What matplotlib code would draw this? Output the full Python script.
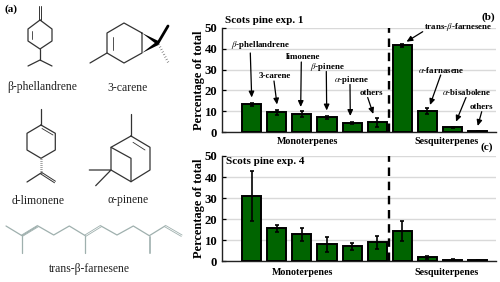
import numpy as np
import matplotlib
matplotlib.use("Agg")
import matplotlib.pyplot as plt

plt.rcParams['font.family'] = ['Liberation Serif', 'DejaVu Serif']
plt.rcParams['mathtext.fontset'] = 'stix'

vals_b = [13.5, 9.5, 8.7, 7.2, 4.5, 4.7, 41.5, 10.2, 2.3, 0.7]
errs_b = [0.7, 1.2, 1.3, 0.7, 0.3, 2.3, 0.8, 1.3, 0.2, 0.1]
vals_c = [31.0, 15.7, 12.8, 8.0, 7.2, 9.0, 14.5, 2.0, 0.8, 0.7]
errs_c = [12.0, 1.7, 3.2, 3.5, 1.6, 3.0, 4.8, 0.7, 0.1, 0.1]
yticks = [0, 10, 20, 30, 40, 50]

W, H = 500, 282
fig = plt.figure(figsize=(W/100, H/100), dpi=100)

def axes_px(l, r, top, bot):
    return fig.add_axes([l/W, 1-bot/H, (r-l)/W, (bot-top)/H])

def panel(ax, vals, errs):
    x = np.arange(len(vals))
    ax.bar(x, vals, width=0.76, color='#006400', edgecolor='black', linewidth=1.4, zorder=3)
    ax.errorbar(x, vals, yerr=errs, fmt='none', ecolor='black', elinewidth=1.2,
                capsize=1.3, capthick=1.2, zorder=4)
    ax.set_xlim(-1.2, 9.73)
    ax.set_ylim(0, 50)
    ax.set_yticks(yticks)
    ax.set_xticks([])
    ax.yaxis.grid(True, color='#d9d9d9', lw=1.0, zorder=0)
    ax.set_axisbelow(True)
    ax.spines['top'].set_visible(False)
    ax.spines['right'].set_visible(False)
    for s in ('left', 'bottom'):
        ax.spines[s].set_linewidth(1.0)
        ax.spines[s].set_color('#222222')
    ax.tick_params(axis='y', direction='in', length=3, width=0.9, pad=3, labelsize=9.2)
    for t in ax.get_yticklabels():
        t.set_fontweight('bold')
    ax.axvline(5.48, color='black', lw=1.7, ls=(0, (3.6, 2.4)), zorder=2)
    ax.set_ylabel('Percentage of total', fontsize=8.9, fontweight='bold', labelpad=0)

ax_b = axes_px(221.5, 496, 27.7, 132.3)
ax_c = axes_px(221.5, 496, 156, 261.3)
panel(ax_b, vals_b, errs_b)
panel(ax_c, vals_c, errs_c)

ov = fig.add_axes([0, 0, 1, 1], zorder=10)
ov.set_xlim(0, W); ov.set_ylim(H, 0); ov.axis('off'); ov.patch.set_alpha(0)

def bt(x, y, s, size=6.4, ha='center'):
    ov.text(x, y, s, fontsize=size, fontweight='bold', ha=ha, va='center')

# panel labels and titles
bt(11, 9, '(a)', 8.0); bt(488, 17, '(b)', 8.0); bt(487, 147, '(c)', 8.0)
bt(225, 20.5, 'Scots pine exp. 1', 8.0, 'left')
bt(226, 162, 'Scots pine exp. 4', 8.0, 'left')
for y, xm, xs in ((142, 307.7, 447), (272.7, 303, 446.7)):
    bt(xm, y, 'Monoterpenes', 7.2)
    bt(xs, y - (1 if y < 200 else 0), 'Sesquiterpenes', 7.2)

# annotated compounds
names = [r'$\beta$-phellandrene', '3-carene', 'limonene', r'$\beta$-pinene', r'$\alpha$-pinene',
         'others', r'trans-$\beta$-farnesene', r'$\alpha$-farnasene', r'$\alpha$-bisabolene', 'others']
name_pos = [(261, 45), (275, 76), (302.7, 57.3), (327, 66.7), (351, 80),
            (371.3, 92.7), (458.3, 27.3), (441, 70), (466.7, 91.7), (481.7, 106.7)]
arrows = [((250.3, 53), (251.7, 97.5)), ((274, 81), (277, 104.5)), ((301.3, 62), (300.7, 107)),
          ((326.3, 71.5), (326.7, 110.5)), ((350, 84.5), (350.3, 116)), ((367.7, 97.5), (373.3, 114)),
          ((422.7, 31.7), (406.5, 41.7)), ((440.7, 75), (430, 105)), ((466, 97.5), (456, 121.7)),
          ((481.7, 111.7), (477.7, 126))]
for n, p, (a, b) in zip(names, name_pos, arrows):
    bt(p[0], p[1], n)
    ov.annotate('', xy=b, xytext=a,
                arrowprops=dict(arrowstyle='-|>,head_width=0.16,head_length=0.35', color='black',
                                lw=0.9, shrinkA=0, shrinkB=0))

# molecules
def ln(pts, c='#333333', lw=0.9):
    p = np.array(pts, float)
    ov.plot(p[:, 0], p[:, 1], color=c, lw=lw, solid_capstyle='round', solid_joinstyle='round')

def dbl(a, b, off=1.1, c='#333333', lw=0.7):
    a, b = np.array(a, float), np.array(b, float)
    d = b - a
    n = np.array([-d[1], d[0]]) / np.hypot(*d) * off
    ln([a + n, b + n], c, lw); ln([a - n, b - n], c, lw)

def wedge(tip, end, w=2.5):
    tip, end = np.array(tip, float), np.array(end, float)
    d = end - tip
    n = np.array([-d[1], d[0]]) / np.hypot(*d) * w
    ov.fill(*np.array([tip, end + n, end - n]).T, color='black', lw=0)

def hashed(a, b, w=1.5, k=8):
    a, b = np.array(a, float), np.array(b, float)
    d = b - a
    n = np.array([-d[1], d[0]]) / np.hypot(*d)
    for t in np.linspace(0.08, 1, k):
        c = a + d*t
        ln([c - n*w*0.7, c + n*w*0.7], '#555555', 0.4)

def mol_text(x, y, s):
    ov.text(x, y, s, fontsize=8.4, ha='center', va='center', color='#222222')

# beta-phellandrene
ln([(40, 20), (52, 29), (52, 41), (40, 49), (28, 41), (28, 29), (40, 20)])
ln([(32, 31), (32, 39)], lw=0.6)
dbl((40, 20), (40, 6), 0.9)
ln([(40, 49), (40, 60)]); ln([(28, 66), (40, 60), (52, 66)])
mol_text(41.7, 87, 'β-phellandrene')
# 3-carene
ln([(142, 33), (124, 23), (107, 33), (107, 53), (124, 63), (142, 53), (142, 33)])
ln([(113, 37), (113, 50)], lw=0.6); ln([(107, 53), (90, 63)])
wedge((142, 33), (158, 43), 2.0); wedge((142, 53), (158, 43), 2.0)
ln([(158, 43), (168, 26)], 'black', 2.0)
hashed((158, 43), (168, 62))
mol_text(128, 88, '3-carene')
# d-limonene
ln([(41, 125), (55.3, 133.3), (55.3, 150), (41, 158.3), (27, 150), (27, 133.3), (41, 125)])
ln([(41, 109.3), (41, 125)]); ln([(42, 128.5), (53, 135)], lw=0.6)
hashed((41, 158.3), (41, 173), 1.3, 8)
ln([(41, 173), (27, 182)]); dbl((41, 173), (55, 182), 0.9)
mol_text(37.7, 201, 'd-limonene')
# alpha-pinene
ln([(131, 114.3), (131, 136)])
ln([(131, 136), (150, 147.3), (150, 170), (131, 181.7), (111, 170), (111, 147.3), (131, 136)])
ln([(111, 147.3), (131, 158.3), (131, 181.7)])
ln([(133, 142.3), (145, 150)], lw=0.6)
ln([(89.3, 170), (111, 170), (95.7, 185.7)])
mol_text(128, 200, 'α-pinene')
# farnesene
G = '#9fb0ae'
ln([(6, 226), (22, 235.7), (37, 226.5)], G)
ln([(38, 226), (53.7, 235), (69.3, 226), (85.3, 235.7)], G)
ln([(101, 226), (117, 235), (133.3, 226), (149.3, 235.7), (165, 226)], G)
for a, b in (((22, 235.7), (38, 226)), ((85.3, 235.7), (101, 226)), ((165, 226), (181.7, 235.7))):
    dbl(a, b, 0.8, G, 0.6)
ln([(22, 235.7), (22, 253.3)], G); ln([(85.3, 235.7), (85.3, 253.3)], G)
dbl((149.3, 235.7), (149.3, 253.3), 0.8, G, 0.6)
mol_text(89, 269, 'trans-β-farnesene')

fig.savefig('out.png', dpi=100)
